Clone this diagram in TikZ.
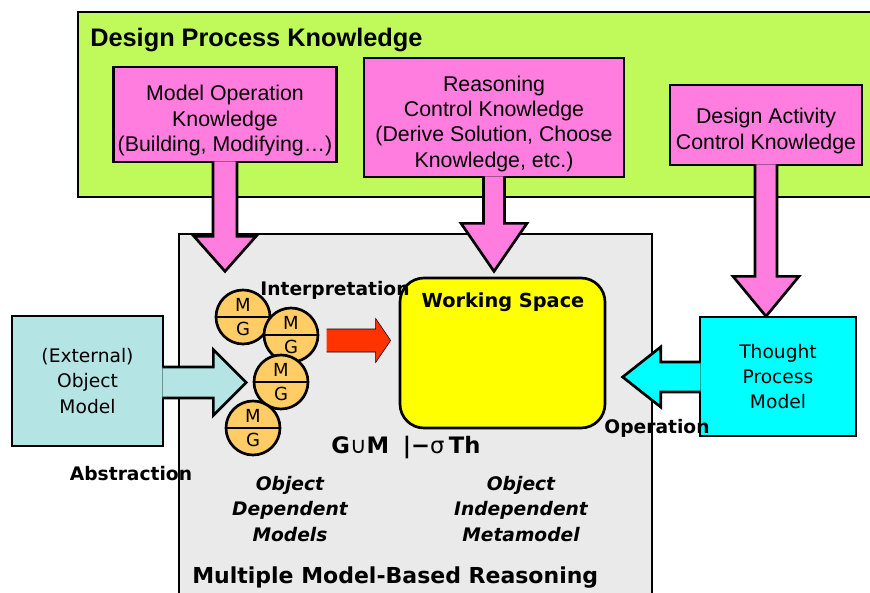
\documentclass[tikz,border=0pt]{standalone}
\usepackage{fontspec}
\setmainfont{DejaVu Sans}
\newfontfamily\tahoma{Liberation Sans}
\usetikzlibrary{calc}

\definecolor{knowgreen}{RGB}{192,250,90}
\definecolor{knowpink}{RGB}{255,125,222}
\definecolor{mmgray}{RGB}{234,234,234}
\definecolor{wsyellow}{RGB}{255,255,0}
\definecolor{objcyan}{RGB}{180,228,228}
\definecolor{tpmcyan}{RGB}{0,255,255}
\definecolor{mgorange}{RGB}{255,204,102}
\definecolor{interpred}{RGB}{255,51,0}

% taller first line so the text sits a little lower in its box
\newcommand\knowtop{\rule{0pt}{1.3em}}

% block arrows: style, start coordinate, length, head length, shaft/head half widths
\newcommand\blockdown[6]{%
  \pgfmathsetmacro\neck{(#3)-(#4)}
  \filldraw[#1] ($(#2)+(-#5,0)$) -- ($(#2)+(-#5,\neck)$) -- ($(#2)+(-#6,\neck)$)
    -- ($(#2)+(0,#3)$) -- ($(#2)+(#6,\neck)$) -- ($(#2)+(#5,\neck)$) -- ($(#2)+(#5,0)$);}
\newcommand\blockside[6]{%
  \pgfmathsetmacro\neck{(#3)-(#4)}
  \filldraw[#1] ($(#2)+(0,-#5)$) -- ($(#2)+(\neck,-#5)$) -- ($(#2)+(\neck,-#6)$)
    -- ($(#2)+(#3,0)$) -- ($(#2)+(\neck,#6)$) -- ($(#2)+(\neck,#5)$) -- ($(#2)+(0,#5)$);}

\begin{document}
\begin{tikzpicture}[x=0.75pt,y=-0.75pt,
  box/.style={draw, line width=2pt},
  know/.style={box, fill=knowpink, align=center, font=\tahoma\fontsize{16}{19}\selectfont},
  model/.style={box, align=center, font=\fontsize{14}{19}\selectfont},
  lbl/.style={inner sep=0pt, font=\bfseries\fontsize{14}{19}\selectfont},
  italbl/.style={lbl, align=center, font=\bfseries\itshape\fontsize{14}{19}\selectfont},
  mg/.style={circle, draw, line width=2pt, fill=mgorange, minimum size=40.5pt, inner sep=0pt,
    align=center, font=\fontsize{13.5}{18}\selectfont,
    path picture={\draw[line width=1.1pt] (path picture bounding box.west) -- (path picture bounding box.east);}},
  knowarrow/.style={fill=knowpink, draw, line width=2pt},
  line join=miter]

\useasboundingbox (0,0) rectangle (870,592);

\node[box, fill=knowgreen, minimum width=601.5pt, minimum height=138.75pt] (dpk) at (479,104.5) {};
\node[anchor=west, inner sep=0pt, font=\tahoma\bfseries\fontsize{19}{22}\selectfont] (dpktitle) at (90,40) {Design Process Knowledge};

\node[know, minimum width=165pt, minimum height=71.25pt] (mok) at (225,114.5) {\knowtop Model Operation\\Knowledge\\(Building, Modifying…)};
\node[know, minimum width=195pt, minimum height=89.25pt] (rck) at (494,117.5) {\knowtop Reasoning\\Control Knowledge\\(Derive Solution, Choose\\Knowledge, etc.)};
\node[know, minimum width=144pt, minimum height=60pt] (dack) at (766,125) {\knowtop Design Activity\\Control Knowledge};

\node[box, fill=mmgray, minimum width=354.75pt, minimum height=289.5pt] (mmr) at (415.5,427) {};
\node[box, fill=wsyellow, rounded corners=18pt, minimum width=153.75pt, minimum height=112.5pt] (ws) at (502.5,353) {};
\node[lbl, font=\bfseries\fontsize{14.5}{17}\selectfont] (wslabel) at (503,302) {Working Space};

\node[model, fill=objcyan, minimum width=113.25pt, minimum height=97.5pt] (obj) at (87.5,381) {(External)\\Object\\Model};
\node[model, fill=tpmcyan, minimum width=117pt, minimum height=89.25pt] (tpm) at (778,376.5) {Thought\\Process\\Model};

\coordinate (mokfoot) at ($(mok.south)+(0,-2)$);
\coordinate (rckfoot) at ($(rck.south)+(0,-2)$);
\coordinate (dackfoot) at ($(dack.south)+(0,-2)$);
\coordinate (objfoot) at ($(obj.east)+(-2,1.5)$);
\coordinate (tpmfoot) at ($(tpm.west)+(2,0.5)$);
\coordinate (interp) at ($(ws.west)+(-72,-12.5)$);

\blockdown{knowarrow}{mokfoot}{110}{35}{12}{31}
\blockdown{knowarrow}{rckfoot}{95}{48}{10.5}{33}
\blockdown{knowarrow}{dackfoot}{152}{40}{11}{33}
\blockside{fill=objcyan, draw, line width=2pt}{objfoot}{84}{33}{15.5}{33}
\blockside{fill=tpmcyan, draw, line width=2pt}{tpmfoot}{-78}{-38}{15}{30}
\blockside{fill=interpred}{interp}{64}{15}{11.5}{22}

\node[mg] (mg1) at (243,317) {M\\G};
\node[mg] (mg2) at (291,335) {M\\G};
\node[mg] (mg3) at (281,382) {M\\G};
\node[mg] (mg4) at (253,428) {M\\G};

\node[lbl] (interplabel) at (335,290) {Interpretation};
\node[lbl] (abslabel) at (131,474) {Abstraction};
\node[lbl] (oplabel) at (657,428) {Operation};
\node[inner sep=0pt, font=\fontsize{17}{20}\selectfont] (gum) at (406,448)
  {\textbf{G}∪\textbf{M}\hspace{0.6em}\textbf{|−}σ\hspace{0.2em}\textbf{Th}};
\node[italbl] (odm) at (290,509) {Object\\Dependent\\Models};
\node[italbl] (oim) at (521,509) {Object\\Independent\\Metamodel};
\node[anchor=west, inner sep=0pt, font=\bfseries\fontsize{16.5}{19}\selectfont] (mmrtitle) at (192,578) {Multiple Model-Based Reasoning};

\end{tikzpicture}
\end{document}
